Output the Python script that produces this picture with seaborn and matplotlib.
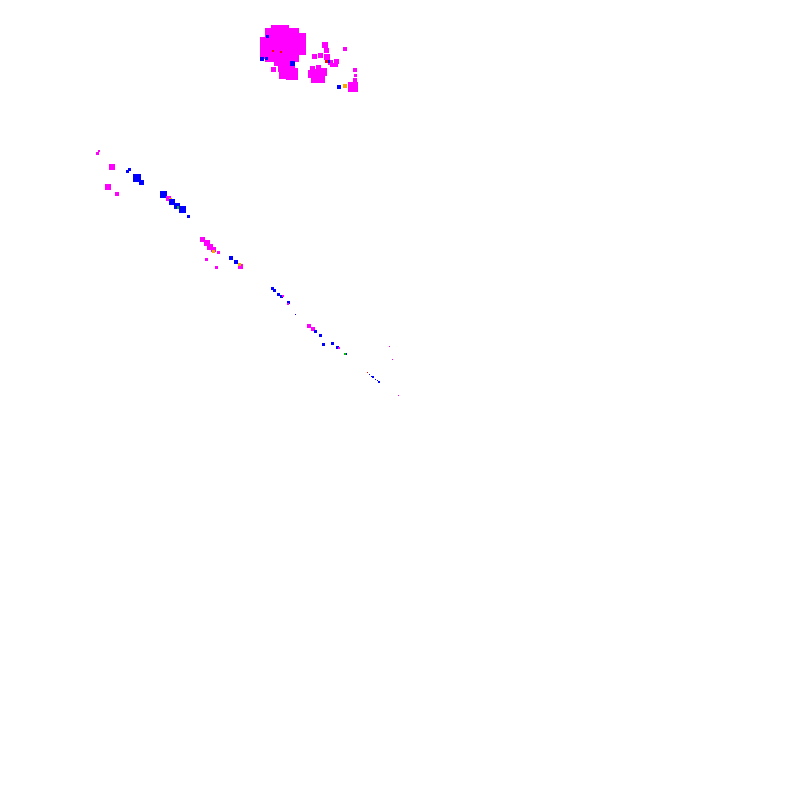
import pandas as pd
import matplotlib.pyplot as plt
import seaborn as sns

# ── Data (pixel positions) ────────────────────────────────────────────────────
xs = [282, 271, 295, 280, 284, 287, 283, 292, 273, 262, 266, 267, 292, 273, 281,
      325, 326, 345, 314, 320, 327, 330, 336, 332, 336, 312, 318, 318, 312, 323, 355,
      355, 355, 353, 339, 345, 328, 326,
      97, 99, 112, 127, 129, 137, 141, 108, 117, 163, 168, 170, 172, 177, 178,
      182, 188, 202, 207, 210, 213, 213, 218, 206, 216, 231, 236, 240, 239,
      272, 274, 278, 281, 283, 288, 288, 295, 309, 313, 315, 320, 323, 332,
      337, 339, 346, 345, 389, 392, 367, 369, 371, 373, 375, 377, 379, 398]
ys = [45, 48, 44, 34, 56, 71, 67, 74, 69, 59, 58, 36, 63, 51, 52,
      45, 50, 49, 56, 55, 57, 62, 61, 65, 65, 68, 67, 76, 74, 72, 70,
      75, 80, 87, 87, 86, 61, 61,
      153, 151, 167, 171, 169, 178, 182, 187, 194, 194, 198, 199, 202, 206, 207,
      209, 216, 239, 243, 247, 249, 251, 252, 259, 267, 258, 262, 266, 264,
      288, 290, 294, 296, 296, 302, 304, 314, 326, 329, 331, 335, 344, 343,
      347, 348, 354, 354, 346, 359, 372, 374, 376, 377, 379, 380, 382, 395]
widths = [34, 22, 22, 18, 20, 16, 10, 12, 5, 4, 3, 3, 5, 2, 2,
          6, 5, 4, 5, 5, 6, 5, 5, 4, 4, 5, 5, 14, 8, 8, 4,
          3, 4, 10, 4, 4, 3, 3,
          3, 2, 6, 3, 3, 8, 5, 6, 4, 7, 5, 3, 6, 6, 3,
          7, 3, 5, 6, 6, 5, 3, 3, 3, 3, 4, 4, 5, 3,
          3, 3, 3, 3, 2, 3, 2, 1, 4, 4, 3, 3, 3, 3,
          3, 2, 2, 2, 1, 1, 1, 1, 1, 2, 1, 1, 2, 1]
colours = ['m', 'm', 'm', 'm', 'm', 'm', 'm', 'm', 'm', 'b', 'b', 'b', 'b', 'r', 'r',
           'm', 'm', 'm', 'm', 'm', 'm', 'm', 'm', 'm', 'm', 'm', 'm', 'm', 'm', 'm', 'm',
           'm', 'm', 'm', 'b', 'o', 'b', 'r',
           'm', 'm', 'm', 'b', 'b', 'b', 'b', 'm', 'm', 'b', 'm', 'o', 'b', 'b', 'g',
           'b', 'b', 'm', 'm', 'm', 'm', 'o', 'm', 'm', 'm', 'b', 'b', 'm', 'o',
           'b', 'b', 'b', 'b', 'm', 'b', 'm', 'b', 'm', 'm', 'b', 'b', 'b', 'b',
           'b', 'm', 'b', 'g', 'm', 'm', 'r', 'b', 'b', 'b', 'b', 'b', 'b', 'm']

palette = {'m': '#ff00ff', 'b': '#0000ff', 'r': '#ff0000', 'o': '#ffa500', 'g': '#00c000'}

df = pd.DataFrame({'x': xs, 'y': ys, 'w': widths, 'colour': colours})
# marker area in pt^2 for a square of w pixels at 100 dpi
df['area'] = (df['w'] * 0.72) ** 2

# ── Plot ──────────────────────────────────────────────────────────────────────
fig = plt.figure(figsize=(8, 8), dpi=100)
ax = fig.add_axes([0, 0, 1, 1])
amin, amax = df['area'].min(), df['area'].max()
sns.scatterplot(data=df, x='x', y='y', hue='colour', palette=palette,
                size='area', sizes=(amin, amax), size_norm=(amin, amax),
                marker='s', linewidth=0, legend=False, ax=ax)
ax.set_xlim(0, 800)
ax.set_ylim(800, 0)
ax.axis('off')
fig.savefig('out.png', dpi=100, facecolor='white')
